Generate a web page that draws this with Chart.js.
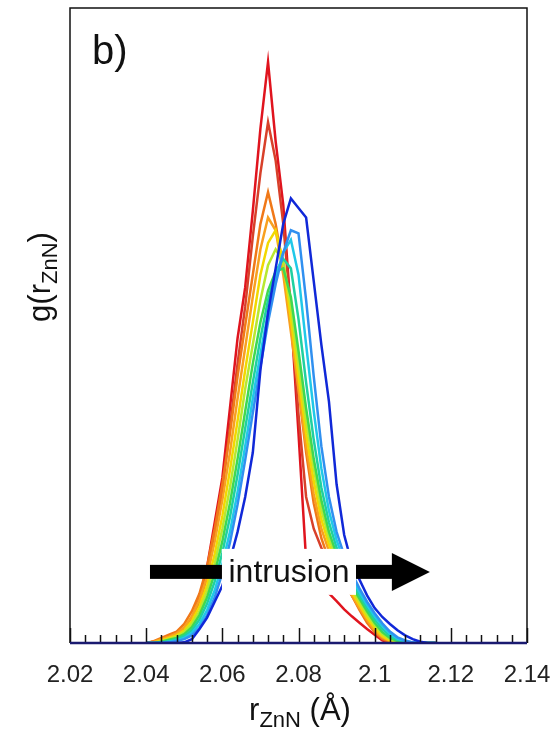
<!DOCTYPE html>
<html>
<head>
<meta charset="utf-8">
<script src="https://cdn.jsdelivr.net/npm/chart.js@4.4.0/dist/chart.umd.min.js"></script>
<style>
  html, body { margin: 0; padding: 0; background: #fff; }
</style>
</head>
<body>
<canvas id="myChart" width="551" height="731"></canvas>
<script>
// r (Angstrom) grid shared by all curves
const rValues = [
  2.040, 2.042, 2.044, 2.046, 2.048, 2.050, 2.052, 2.054, 2.056, 2.058,
  2.060, 2.062, 2.064, 2.066, 2.068, 2.070, 2.072, 2.074, 2.076, 2.078,
  2.080, 2.082, 2.084, 2.086, 2.088, 2.090, 2.092, 2.094, 2.096, 2.098,
  2.100, 2.102, 2.104, 2.106, 2.108, 2.110, 2.112, 2.114, 2.116
];

// g(r) for each step of the intrusion, red -> blue
const gRed = [0, 0.002, 0.006, 0.010, 0.016, 0.022, 0.040, 0.070, 0.120, 0.190,
  0.260, 0.370, 0.480, 0.560, 0.680, 0.810, 0.915, 0.790, 0.690, 0.520,
  0.330, 0.130, 0.110, 0.090, 0.078, 0.066, 0.053, 0.042, 0.032, 0.022,
  0.013, 0.004, 0, 0, 0, 0, 0, 0, 0];
const gRedOrange = [0, 0.002, 0.005, 0.009, 0.014, 0.020, 0.035, 0.062, 0.105, 0.170,
  0.240, 0.340, 0.440, 0.530, 0.640, 0.740, 0.820, 0.760, 0.660, 0.520,
  0.360, 0.230, 0.180, 0.150, 0.125, 0.105, 0.090, 0.075, 0.055, 0.035,
  0.018, 0.006, 0, 0, 0, 0, 0, 0, 0];
const gOrange = [0, 0.003, 0.008, 0.013, 0.018, 0.030, 0.050, 0.078, 0.120, 0.180,
  0.250, 0.330, 0.420, 0.500, 0.580, 0.660, 0.710, 0.660, 0.590, 0.500,
  0.400, 0.300, 0.220, 0.165, 0.130, 0.115, 0.095, 0.075, 0.052, 0.032,
  0.017, 0.007, 0.002, 0, 0, 0, 0, 0, 0];
const gAmber = [0, 0.002, 0.006, 0.010, 0.015, 0.025, 0.042, 0.068, 0.105, 0.160,
  0.225, 0.300, 0.385, 0.465, 0.545, 0.620, 0.670, 0.650, 0.580, 0.490,
  0.400, 0.310, 0.235, 0.180, 0.145, 0.118, 0.095, 0.075, 0.055, 0.036,
  0.020, 0.009, 0.003, 0, 0, 0, 0, 0, 0];
const gYellow = [0, 0.001, 0.004, 0.008, 0.012, 0.020, 0.035, 0.058, 0.092, 0.140,
  0.200, 0.272, 0.350, 0.430, 0.505, 0.580, 0.630, 0.650, 0.600, 0.510,
  0.420, 0.330, 0.255, 0.195, 0.155, 0.125, 0.100, 0.080, 0.060, 0.040,
  0.024, 0.011, 0.004, 0.001, 0, 0, 0, 0, 0];
const gLime = [0, 0, 0.003, 0.006, 0.010, 0.017, 0.030, 0.050, 0.082, 0.125,
  0.180, 0.245, 0.320, 0.400, 0.470, 0.540, 0.595, 0.620, 0.600, 0.530,
  0.440, 0.350, 0.275, 0.210, 0.165, 0.132, 0.106, 0.085, 0.065, 0.045,
  0.028, 0.014, 0.006, 0.002, 0, 0, 0, 0, 0];
const gGreen = [0, 0, 0.002, 0.005, 0.008, 0.014, 0.025, 0.044, 0.072, 0.110,
  0.160, 0.220, 0.290, 0.365, 0.440, 0.505, 0.555, 0.585, 0.590, 0.545,
  0.460, 0.370, 0.290, 0.225, 0.175, 0.140, 0.112, 0.090, 0.070, 0.050,
  0.032, 0.017, 0.008, 0.003, 0.001, 0, 0, 0, 0];
const gTeal = [0, 0, 0.001, 0.003, 0.006, 0.011, 0.020, 0.037, 0.062, 0.097,
  0.142, 0.198, 0.265, 0.338, 0.410, 0.480, 0.540, 0.585, 0.605, 0.590,
  0.510, 0.410, 0.320, 0.245, 0.190, 0.150, 0.120, 0.096, 0.075, 0.055,
  0.037, 0.022, 0.011, 0.005, 0.002, 0, 0, 0, 0];
const gCyan = [0, 0, 0, 0.002, 0.004, 0.008, 0.016, 0.030, 0.052, 0.083,
  0.124, 0.175, 0.238, 0.310, 0.385, 0.455, 0.520, 0.575, 0.615, 0.635,
  0.580, 0.470, 0.365, 0.275, 0.208, 0.162, 0.128, 0.102, 0.080, 0.060,
  0.042, 0.027, 0.015, 0.007, 0.003, 0.001, 0, 0, 0];
const gSky = [0, 0, 0, 0.001, 0.003, 0.006, 0.012, 0.024, 0.044, 0.072,
  0.110, 0.158, 0.218, 0.288, 0.362, 0.435, 0.505, 0.565, 0.615, 0.650,
  0.645, 0.540, 0.420, 0.310, 0.230, 0.175, 0.138, 0.110, 0.086, 0.065,
  0.047, 0.031, 0.018, 0.009, 0.004, 0.001, 0, 0, 0];
const gBlue = [0, 0, 0, 0, 0, 0.001, 0.006, 0.022, 0.040, 0.065,
  0.090, 0.130, 0.175, 0.230, 0.300, 0.430, 0.520, 0.590, 0.660, 0.700,
  0.685, 0.670, 0.570, 0.470, 0.380, 0.250, 0.170, 0.125, 0.100, 0.075,
  0.055, 0.041, 0.030, 0.020, 0.012, 0.006, 0.002, 0, 0];

const seriesList = [gRed, gRedOrange, gOrange, gAmber, gYellow, gLime, gGreen, gTeal, gCyan, gSky, gBlue];
const seriesColors = ['#e0141e', '#d8402a', '#f07818', '#f8a020', '#f2d800', '#b8e830',
  '#40d850', '#20d0a0', '#20c8e8', '#3090f0', '#1028d8'];

const xMin = 2.02, xMax = 2.14, xMinorStep = 0.004;

const datasets = seriesList.map((vals, i) => ({
  data: rValues.map((r, j) => ({ x: r, y: vals[j] })),
  borderColor: seriesColors[i],
  borderWidth: 2.5,
  pointRadius: 0,
  tension: 0,
  fill: false,
  order: seriesList.length - 1 - i,
}));

function isMajor(v) {
  return Math.abs(v * 50 - Math.round(v * 50)) < 1e-6;
}

// text with a subscript part, centred on (0,0) baseline
function subText(ctx, parts, big, small, drop) {
  let w = 0;
  parts.forEach(p => {
    ctx.font = (p.sub ? small : big) + 'px "Liberation Sans", Arial, sans-serif';
    w += ctx.measureText(p.t).width;
  });
  let cx = -w / 2;
  parts.forEach(p => {
    ctx.font = (p.sub ? small : big) + 'px "Liberation Sans", Arial, sans-serif';
    ctx.fillText(p.t, cx, p.sub ? drop : 0);
    cx += ctx.measureText(p.t).width;
  });
}

const decor = {
  id: 'decor',
  afterDatasetsDraw(chart) {
    const { ctx, chartArea: a, scales: { x, y } } = chart;
    ctx.save();

    // intrusion arrow and label
    const ay = y.getPixelForValue(0.112);
    const x0 = x.getPixelForValue(2.041);
    const x1 = x.getPixelForValue(2.1145);
    ctx.fillStyle = '#000';
    ctx.fillRect(x0, ay - 7, x1 - 36 - x0, 14);
    ctx.beginPath();
    ctx.moveTo(x1, ay);
    ctx.lineTo(x1 - 38, ay - 19);
    ctx.lineTo(x1 - 38, ay + 19);
    ctx.closePath();
    ctx.fill();
    const bx0 = x.getPixelForValue(2.0599), bx1 = x.getPixelForValue(2.0951);
    ctx.fillStyle = '#fff';
    ctx.fillRect(bx0, ay - 23, bx1 - bx0, 46);
    ctx.fillStyle = '#111';
    ctx.font = '32px "Liberation Sans", Arial, sans-serif';
    ctx.textAlign = 'center';
    ctx.textBaseline = 'middle';
    ctx.fillText('intrusion', (bx0 + bx1) / 2, ay + 1);

    // inward tick marks on the bottom axis
    ctx.strokeStyle = '#111';
    ctx.lineWidth = 1.5;
    x.ticks.forEach(t => {
      const px = Math.round(x.getPixelForValue(t.value)) + 0.5;
      const len = isMajor(t.value) ? 15 : 8;
      ctx.beginPath();
      ctx.moveTo(px, a.bottom);
      ctx.lineTo(px, a.bottom - len);
      ctx.stroke();
    });

    // frame
    ctx.strokeStyle = '#111';
    ctx.lineWidth = 1.5;
    ctx.beginPath();
    ctx.moveTo(a.left, a.bottom);
    ctx.lineTo(a.left, a.top);
    ctx.lineTo(a.right, a.top);
    ctx.lineTo(a.right, a.bottom);
    ctx.stroke();
    ctx.strokeStyle = '#1a1a70';
    ctx.lineWidth = 2.5;
    ctx.beginPath();
    ctx.moveTo(a.left, a.bottom);
    ctx.lineTo(a.right, a.bottom);
    ctx.stroke();

    // panel letter
    ctx.fillStyle = '#111';
    ctx.textAlign = 'left';
    ctx.textBaseline = 'alphabetic';
    ctx.font = '40px "Liberation Sans", Arial, sans-serif';
    ctx.fillText('b)', a.left + 22, a.top + 56);

    // axis titles
    ctx.save();
    ctx.translate(300, 720);
    subText(ctx, [{ t: 'r' }, { t: 'ZnN', sub: true }, { t: ' (Å)' }], 31, 22, 7);
    ctx.restore();
    ctx.save();
    ctx.translate(50, 277);
    ctx.rotate(-Math.PI / 2);
    subText(ctx, [{ t: 'g(r' }, { t: 'ZnN', sub: true }, { t: ')' }], 31, 22, 7);
    ctx.restore();

    ctx.restore();
  }
};

const ctx = document.getElementById('myChart').getContext('2d');
const myChart = new Chart(ctx, {
  type: 'line',
  data: { datasets },
  options: {
    responsive: false,
    animation: false,
    layout: { padding: { left: 70, right: 24, top: 8, bottom: 0 } },
    plugins: { legend: { display: false }, tooltip: { enabled: false } },
    scales: {
      x: {
        type: 'linear',
        min: xMin,
        max: xMax,
        grid: { display: false, drawTicks: false },
        border: { display: false },
        ticks: {
          stepSize: xMinorStep,
          autoSkip: false,
          maxRotation: 0,
          minRotation: 0,
          padding: 18,
          color: '#222',
          font: { size: 24, family: '"Liberation Sans", Arial, sans-serif' },
          callback: v => isMajor(v) ? String(Math.round(v * 100) / 100) : ''
        },
        afterFit: s => { s.height = 88; s.paddingLeft = 0; s.paddingRight = 0; }
      },
      y: { display: false, min: 0, max: 1 }
    }
  },
  plugins: [decor]
});
</script>
</body>
</html>
